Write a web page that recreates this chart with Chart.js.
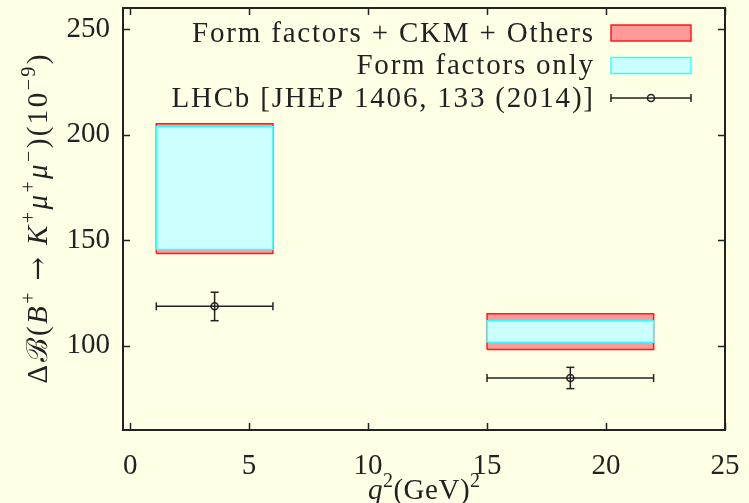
<!DOCTYPE html>
<html><head><meta charset="utf-8">
<style>html,body{margin:0;padding:0;background:#FFFFE6;}canvas{display:block;}</style>
<script src="https://cdn.jsdelivr.net/npm/chart.js@4.4.1/dist/chart.umd.min.js"></script>
</head><body>
<canvas id="c" width="749" height="503"></canvas>
<script>
// ---- data ----
const binLo   = [1.1, 15.0];
const binHi   = [6.0, 22.0];
const totalLo = [143.7, 98.2];   // Form factors + CKM + Others
const totalHi = [205.2, 115.1];
const ffLo    = [145.6, 101.6];  // Form factors only
const ffHi    = [203.8, 111.8];
const lhcbX   = [3.55, 18.5];
const lhcbY   = [118.6, 84.6];
const lhcbLo  = [111.8, 79.6];
const lhcbHi  = [125.3, 89.7];
const xTicks  = [0, 5, 10, 15, 20, 25];
const yTicks  = [100, 150, 200, 250];
const seriesLabels = ['Form factors + CKM + Others', 'Form factors only', 'LHCb [JHEP 1406, 133 (2014)]'];
// axis titles as [text, style] pieces: r = upright, i = italic, s = superscript, a = symbol
const xTitleParts = [['q', 'i'], ['2', 's'], ['(GeV)', 'r'], ['2', 's']];
const yTitleParts = [['\u0394', 'r'], ['\u212C', 'r'], ['(', 'r'], ['B', 'i'], ['+', 's'], [' ', 'r'], ['\u2192', 'a'], [' ', 'r'],
  ['K', 'i'], ['+', 's'], ['\u03BC', 'i'], ['+', 's'], ['\u03BC', 'i'], ['\u2212', 's'], [')(10', 'r'], ['\u22129', 's'], [')', 'r']];

const FAMILY = "'Liberation Serif', serif";
const FS = 29;
const INK = '#222222';
const RED_FILL = '#FF9A9A', RED_LINE = '#FF1A1A';
const CY_FILL = '#CCFFFF', CY_LINE = '#33FFFF';

function boxPts(i, lo, hi) {
  return [
    {x: binLo[i], y: lo[i]}, {x: binHi[i], y: lo[i]},
    {x: binHi[i], y: hi[i]}, {x: binLo[i], y: hi[i]}, {x: binLo[i], y: lo[i]}
  ];
}

const datasets = [];
binLo.forEach((_, i) => {
  datasets.push({label: seriesLabels[0], gpKey: i === 0 ? 'red' : null, data: boxPts(i, totalLo, totalHi),
    showLine: true, fill: 'shape', backgroundColor: RED_FILL, borderColor: RED_LINE, borderWidth: 1.5,
    pointRadius: 0, order: 4});
  datasets.push({label: seriesLabels[1], gpKey: i === 0 ? 'cyan' : null, data: boxPts(i, ffLo, ffHi),
    showLine: true, fill: 'shape', backgroundColor: CY_FILL, borderColor: CY_LINE, borderWidth: 1.5,
    pointRadius: 0, order: 3});
});
lhcbX.forEach((x, i) => {
  datasets.push({label: seriesLabels[2], gpKey: i === 0 ? 'err' : null,
    data: [{x: binLo[i], y: lhcbY[i]}, {x: binHi[i], y: lhcbY[i]}],
    showLine: true, borderColor: INK, borderWidth: 1.5, pointStyle: 'line', rotation: 90,
    pointRadius: 4, pointBorderColor: INK, pointBorderWidth: 1.5, order: 2});
  datasets.push({label: seriesLabels[2], data: [{x: x, y: lhcbLo[i]}, {x: x, y: lhcbHi[i]}],
    showLine: true, borderColor: INK, borderWidth: 1.5, pointStyle: 'line', rotation: 0,
    pointRadius: 4, pointBorderColor: INK, pointBorderWidth: 1.5, order: 2});
  datasets.push({label: seriesLabels[2], data: [{x: x, y: lhcbY[i]}],
    showLine: false, pointStyle: 'circle', pointRadius: 3.5, pointBorderColor: INK,
    pointBackgroundColor: 'rgba(0,0,0,0)', pointBorderWidth: 1.5, order: 1});
});

function setFont(ctx, st, size) {
  const fam = st === 'a' ? "'DejaVu Serif', serif" : FAMILY;
  const sz = st === 's' ? Math.round(size * 0.7) : (st === 'a' ? Math.round(size * 0.95) : size);
  ctx.font = (st === 'i' ? 'italic ' : '') + sz + 'px ' + fam;
}
function richWidth(ctx, parts, size, sp) {
  let w = 0;
  parts.forEach(([t, st]) => {
    setFont(ctx, st, size);
    Array.from(t).forEach(ch => { w += ctx.measureText(ch).width + sp; });
  });
  return w - sp;
}
function drawRich(ctx, parts, x, y, size, sp) {
  ctx.textAlign = 'left';
  parts.forEach(([t, st]) => {
    setFont(ctx, st, size);
    const yy = st === 's' ? y - size * 0.42 : y;
    Array.from(t).forEach(ch => {
      ctx.fillText(ch, x, yy);
      x += ctx.measureText(ch).width + sp;
    });
  });
}

const bgPlugin = {
  id: 'bg',
  beforeDraw(chart) {
    const ctx = chart.ctx;
    ctx.save(); ctx.fillStyle = '#FFFFE6'; ctx.fillRect(0, 0, chart.width, chart.height); ctx.restore();
  }
};

const framePlugin = {
  id: 'frame',
  afterDatasetsDraw(chart) {
    const ctx = chart.ctx, a = chart.chartArea, xs = chart.scales.x, ys = chart.scales.y;
    ctx.save();
    ctx.strokeStyle = INK; ctx.lineWidth = 1.5;
    const T = 7;
    ctx.beginPath();
    xTicks.forEach(v => {
      const px = Math.round(xs.getPixelForValue(v)) + 0.5;
      ctx.moveTo(px, a.bottom); ctx.lineTo(px, a.bottom - T);
      ctx.moveTo(px, a.top); ctx.lineTo(px, a.top + T);
    });
    yTicks.forEach(v => {
      const py = Math.round(ys.getPixelForValue(v)) + 0.5;
      ctx.moveTo(a.left, py); ctx.lineTo(a.left + T, py);
      ctx.moveTo(a.right, py); ctx.lineTo(a.right - T, py);
    });
    ctx.stroke();
    ctx.lineWidth = 2;
    ctx.strokeRect(a.left, a.top, a.right - a.left, a.bottom - a.top);
    ctx.restore();
  }
};

const titlePlugin = {
  id: 'titles',
  afterDraw(chart) {
    const ctx = chart.ctx, a = chart.chartArea;
    ctx.save();
    ctx.fillStyle = INK;
    ctx.textBaseline = 'alphabetic';
    let w = richWidth(ctx, xTitleParts, FS, 0.5);
    drawRich(ctx, xTitleParts, (a.left + a.right) / 2 - w / 2, 499, FS, 0.5);
    w = richWidth(ctx, yTitleParts, FS, 2.4);
    ctx.translate(47, (a.top + a.bottom) / 2);
    ctx.rotate(-Math.PI / 2);
    drawRich(ctx, yTitleParts, -w / 2, 0, FS, 2.4);
    ctx.restore();
  }
};

const legendPlugin = {
  id: 'gpLegend',
  afterDraw(chart) {
    const ctx = chart.ctx, a = chart.chartArea;
    const keyR = a.right - 34, keyL = keyR - 80, textR = keyL - 18;
    const items = chart.data.datasets.filter(d => d.gpKey);
    ctx.save();
    ctx.textBaseline = 'middle';
    items.forEach((d, i) => {
      const y = a.top + 25 + i * 32.5;
      ctx.fillStyle = INK;
      const parts = [[d.label, 'r']];
      const w = richWidth(ctx, parts, FS, 1.8);
      drawRich(ctx, parts, textR - w, y + 1, FS, 1.8);
      if (d.gpKey === 'err') {
        ctx.strokeStyle = INK; ctx.lineWidth = 1.5;
        ctx.beginPath();
        ctx.moveTo(keyL, y); ctx.lineTo(keyR, y);
        ctx.moveTo(keyL, y - 4); ctx.lineTo(keyL, y + 4);
        ctx.moveTo(keyR, y - 4); ctx.lineTo(keyR, y + 4);
        ctx.stroke();
        ctx.beginPath(); ctx.arc((keyL + keyR) / 2, y, 3.5, 0, Math.PI * 2); ctx.stroke();
      } else {
        ctx.fillStyle = d.backgroundColor; ctx.strokeStyle = d.borderColor; ctx.lineWidth = 1.5;
        ctx.fillRect(keyL, y - 8, keyR - keyL, 16);
        ctx.strokeRect(keyL, y - 8, keyR - keyL, 16);
      }
    });
    ctx.restore();
  }
};

function zeroPad(s) { s.paddingTop = 0; s.paddingBottom = 0; s.paddingLeft = 0; s.paddingRight = 0; }

new Chart(document.getElementById('c'), {
  type: 'scatter',
  data: {datasets},
  options: {
    responsive: false,
    animation: false,
    devicePixelRatio: 1,
    layout: {padding: {left: 0, top: 8, right: 24, bottom: 0}},
    plugins: {legend: {display: false}, tooltip: {enabled: false}},
    scales: {
      x: {
        type: 'linear', min: -0.3, max: 25,
        afterBuildTicks: s => { s.ticks = xTicks.map(v => ({value: v})); },
        afterFit: s => { s.height = 73; zeroPad(s); },
        grid: {display: false, drawTicks: false},
        border: {display: false},
        ticks: {color: INK, font: {family: FAMILY, size: FS}, padding: 19, maxRotation: 0, autoSkip: false},
        title: {display: false}
      },
      y: {
        type: 'linear', min: 60, max: 260,
        afterBuildTicks: s => { s.ticks = yTicks.map(v => ({value: v})); },
        afterFit: s => { s.width = 123; zeroPad(s); },
        grid: {display: false, drawTicks: false},
        border: {display: false},
        ticks: {color: INK, font: {family: FAMILY, size: FS}, padding: 13},
        title: {display: false}
      }
    }
  },
  plugins: [bgPlugin, framePlugin, titlePlugin, legendPlugin]
});
</script>
</body></html>
